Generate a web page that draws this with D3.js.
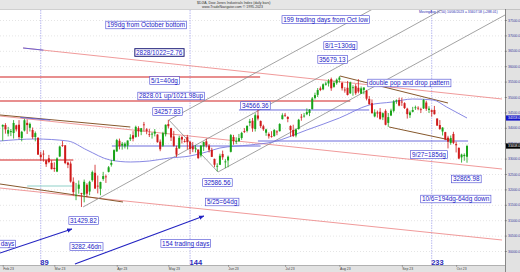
<!DOCTYPE html>
<html>
<head>
<meta charset="utf-8">
<script src="https://cdn.jsdelivr.net/npm/d3@7"></script>
<style>
  body { margin: 0; background: #fff; }
  svg { display: block; font-family: "Liberation Sans", Arial, sans-serif; }
</style>
</head>
<body>
<svg id="chart" width="520" height="272"></svg>
<script>
// bars are placed by trading-day number, counted from the Oct 13 2022 low (day 0)
const firstDay = 75; // Feb 1 2023

// daily bars [open, high, low, close]
const febBars = [
  [34040, 34110, 33580, 34093], [34090, 34150, 33810, 33949], [33810, 34030, 33720, 33926],
  [33860, 33960, 33730, 33891], [33830, 34250, 33650, 34157], [34080, 34100, 33880, 33949],
  [34100, 34250, 33640, 33700], [33670, 33900, 33560, 33869], [33910, 34290, 33880, 34246],
  [34160, 34270, 33800, 34089], [34000, 34170, 33880, 34128], [33930, 34010, 33640, 33697],
  [33700, 33880, 33560, 33827], [33680, 33680, 33120, 33130], [33130, 33220, 32930, 33045],
  [33160, 33270, 32900, 33154], [32940, 32960, 32730, 32817], [33010, 33120, 32850, 32889],
  [32860, 32950, 32650, 32657]
];
const marBars = [
  [32700, 32880, 32570, 32662], [32580, 33040, 32560, 33004], [33070, 33420, 33050, 33391],
  [33440, 33570, 33380, 33431], [33430, 33440, 32820, 32856], [32870, 32900, 32690, 32798],
  [32840, 32910, 32220, 32255], [32250, 32390, 31800, 31910], [31810, 32210, 31650, 31819],
  [32020, 32290, 31860, 32155], [31880, 31890, 31430, 31875], [31830, 32320, 31580, 32247],
  [32150, 32200, 31750, 31862], [31930, 32280, 31810, 32245], [32300, 32610, 32250, 32561],
  [32540, 32800, 32010, 32030], [32120, 32450, 31870, 32105], [32020, 32250, 31810, 32238],
  [32340, 32570, 32280, 32432], [32420, 32480, 32210, 32394], [32570, 32760, 32550, 32718],
  [32800, 32950, 32740, 32859], [32930, 33300, 32920, 33274]
];
const aprBars = [
  [33230, 33640, 33230, 33601], [33580, 33650, 33300, 33402], [33420, 33540, 33290, 33483],
  [33400, 33530, 33330, 33485], [33420, 33590, 33300, 33587], [33630, 33790, 33570, 33685],
  [33760, 33890, 33560, 33647], [33700, 34070, 33680, 34030], [33990, 34050, 33710, 33886],
  [33870, 33990, 33760, 33987], [34110, 34190, 33880, 34083], [33950, 33990, 33790, 33897],
  [33790, 33970, 33700, 33787], [33800, 33850, 33650, 33809], [33810, 33960, 33720, 33875],
  [33780, 33790, 33520, 33531], [33550, 33620, 33240, 33302], [33420, 33870, 33380, 33826],
  [33790, 34110, 33720, 34098]
];
const mayBars = [
  [34120, 34258, 33980, 34052], [33990, 34000, 33570, 33685], [33720, 33900, 33390, 33414],
  [33350, 33420, 33050, 33128], [33330, 33740, 33320, 33674], [33700, 33730, 33490, 33619],
  [33570, 33640, 33520, 33562], [33700, 33770, 33300, 33531], [33550, 33560, 33140, 33310],
  [33400, 33540, 33210, 33301], [33340, 33440, 33200, 33349], [33290, 33300, 33000, 33012],
  [33100, 33440, 33040, 33421], [33400, 33550, 33250, 33536], [33560, 33650, 33360, 33427],
  [33420, 33470, 33200, 33287], [33280, 33350, 33050, 33056], [32990, 33000, 32720, 32800],
  [32760, 32850, 32587, 32765], [32800, 33160, 32790, 33093], [33150, 33260, 32960, 33043],
  [32880, 32980, 32690, 32908]
];
const junBars = [
  [32940, 33100, 32720, 33062], [33220, 33800, 33200, 33763], [33700, 33770, 33450, 33563],
  [33550, 33690, 33470, 33573], [33560, 33800, 33560, 33665], [33670, 33870, 33610, 33834],
  [33890, 33990, 33830, 33877], [33900, 34070, 33850, 34066], [34160, 34290, 34050, 34212],
  [34230, 34320, 33870, 33979], [33960, 34470, 33880, 34408], [34400, 34590, 34240, 34299],
  [34220, 34240, 33990, 34054], [34050, 34100, 33900, 33952], [33840, 33970, 33740, 33947],
  [33800, 33850, 33650, 33727], [33730, 33890, 33680, 33715], [33730, 33960, 33710, 33927],
  [33880, 33920, 33760, 33853], [33890, 34150, 33880, 34122], [34280, 34470, 34270, 34408]
];
const julBars = [
  [34420, 34480, 34350, 34418], [34350, 34380, 34180, 34289], [34060, 34080, 33710, 33922],
  [33930, 34100, 33700, 33735], [33750, 33980, 33690, 33944], [33960, 34290, 33940, 34261],
  [34360, 34450, 34230, 34347], [34380, 34480, 34330, 34395], [34440, 34630, 34410, 34509],
  [34480, 34610, 34380, 34585], [34610, 35000, 34590, 34952], [34970, 35140, 34920, 35061],
  [35070, 35290, 35000, 35225], [35280, 35340, 35190, 35228], [35250, 35440, 35220, 35411],
  [35400, 35500, 35370, 35438], [35440, 35580, 35340, 35520], [35580, 35630, 35200, 35283],
  [35330, 35520, 35300, 35459], [35450, 35600, 35400, 35560]
];
const augBars = [
  [35560, 35679, 35470, 35631], [35460, 35480, 35210, 35283], [35240, 35320, 35140, 35216],
  [35300, 35520, 35050, 35066], [35120, 35500, 35100, 35473], [35310, 35380, 35040, 35314],
  [35350, 35420, 35070, 35123], [35300, 35580, 35120, 35176], [35110, 35340, 35100, 35281],
  [35230, 35310, 35090, 35308], [35200, 35230, 34890, 34946], [34940, 35030, 34750, 34766],
  [34800, 34920, 34460, 34475], [34370, 34600, 34340, 34501], [34500, 34560, 34330, 34464],
  [34520, 34640, 34260, 34289], [34340, 34500, 34250, 34473], [34550, 34600, 34080, 34099],
  [34160, 34480, 34030, 34347], [34400, 34620, 34380, 34560], [34550, 34900, 34500, 34853],
  [34870, 34920, 34780, 34890], [34900, 34980, 34700, 34722]
];
const sepBars = [
  [34850, 34980, 34710, 34838], [34800, 34830, 34610, 34642], [34620, 34650, 34300, 34443],
  [34410, 34560, 34320, 34501], [34520, 34680, 34500, 34577], [34660, 34720, 34580, 34664],
  [34650, 34700, 34570, 34646], [34600, 34650, 34480, 34576], [34630, 34930, 34610, 34907],
  [34820, 34880, 34550, 34618], [34580, 34700, 34480, 34624], [34570, 34600, 34360, 34518],
  [34580, 34710, 34430, 34441], [34300, 34310, 34070, 34070], [34090, 34250, 33930, 33964],
  [33880, 34020, 33750, 34007], [33860, 33870, 33600, 33619], [33680, 33740, 33330, 33550],
  [33510, 33750, 33450, 33666], [33800, 33870, 33470, 33508]
];
const octBars = [
  [33470, 33550, 33200, 33433], [33350, 33360, 32980, 33002], [33040, 33160, 32870, 33130],
  [33080, 33170, 32930, 33120], [33060, 33450, 32866, 33408]
];

// 50 bar moving average [day, value]
const maPoints = [
  [74, 33571], [87, 33636], [99, 33571], [106, 33279], [114.5, 32955], [122, 32890],
  [129, 32922], [136.5, 33020], [144, 33084], [150, 33214], [155, 33344], [166, 33442],
  [174.5, 33539], [187, 33929], [199, 34318], [210, 34740], [218.5, 34838], [226, 34935],
  [233.5, 34903], [238.5, 34675], [246, 34318]
];

const priceTicks = [30000, 30500, 31000, 31500, 32000, 32500, 33000, 33500, 34000,
  34500, 35000, 35500, 36000, 36500, 37000, 37500];
const monthLabels = ["Feb 23", "Mar 23", "Apr 23", "May 23", "Jun 23", "Jul 23", "Aug 23", "Sep 23", "Oct 23"];
const monthDays = [75, 94, 117, 136, 158, 179, 199, 222, 242];
const fibDays = [89, 144, 233];

// drawn trend lines [day, value] -> [day, value]
const redLevels = [
  [[74, 35649], [169.8, 35649]],
  [[74, 34870], [203, 34870]],
  [[74, 32955], [101, 32955]]
];
const redChannel = [
  [[82.5, 36591], [258.9, 34935]],
  [[74, 34383], [258.9, 32662]],
  [[74, 32045], [258.9, 30357]]
];
const brownLines = [
  [[74, 34416], [122, 34026]],
  [[74, 32175], [119.3, 31591]],
  [[199.2, 35682], [239, 34805]],
  [[217.3, 34026], [239.7, 33604]]
];
const grayLines = [
  [[136.2, 34253], [214, 37987]],
  [[104.6, 31429], [237.9, 37890]],
  [[154.3, 32565], [260, 37662]],
  [[136.2, 34253], [154.3, 32565]]
];
const blueLines = [
  [[115.2, 33409], [170, 33409]],
  [[169, 33571], [246.4, 33571]],
  [[162, 34578], [210, 34578]],
  [[82.5, 36591], [90, 36521]],
  [[81.5, 34335], [92.5, 34250]]
];
const tealLines = [
  [[84, 32110], [101, 32110]]
];
const arrows = [
  [[74, 29935], [100.5, 30714]],
  [[101.6, 29578], [149.1, 31136]]
];

// text boxes: text, left day, centre value
const notes = [
  ["199dg from October bottom", 113.4, 37338],
  ["2828/1022=2.76", 124.1, 36445],
  ["5/1=40dg", 129.6, 35536],
  ["2828.01 up/1021.98up", 125.2, 35033],
  ["34257.83", 130.7, 34529],
  ["34566.36", 163.1, 34724],
  ["199 trading days from Oct low", 178.3, 37516],
  ["8/1=130dg", 193.7, 36672],
  ["35679.13", 191.5, 36218],
  ["double pop and drop pattern", 209.9, 35455],
  ["9/27=185dg", 225.7, 33133],
  ["32865.98", 240.8, 32338],
  ["10/6=194dg-64dg down", 229.4, 31688],
  ["32586.56", 149.1, 32224],
  ["5/25=64dg", 150.2, 31591],
  ["31429.82", 99.8, 30990],
  ["3282.46dn", 100.2, 30146],
  ["154 trading days", 133.7, 30244],
  ["days", 74.3, 30227]
];

const W = 520, H = 272;
const plotRight = 505, plotTop = 10, plotBottom = 265;

const bars = [].concat(febBars, marBars, aprBars, mayBars, junBars, julBars, augBars, sepBars, octBars)
  .map((b, i) => ({ day: firstDay + i, o: b[0], h: b[1], l: b[2], c: b[3] }));

const x = d3.scaleLinear().domain([0, 246]).range([-200.9, 467]);
const y = d3.scaleLinear().domain([30000, 37500]).range([251, 20]);

const svg = d3.select("#chart");

svg.append("rect").attr("width", W).attr("height", H).attr("fill", "#fff");

const defs = svg.append("defs");
defs.append("clipPath").attr("id", "plotClip")
  .append("rect").attr("x", 0).attr("y", plotTop).attr("width", plotRight).attr("height", plotBottom - plotTop);
defs.append("marker").attr("id", "arrowHead")
  .attr("viewBox", "0 0 10 10").attr("refX", 9).attr("refY", 5)
  .attr("markerWidth", 5).attr("markerHeight", 5).attr("orient", "auto")
  .append("path").attr("d", "M0,1L10,5L0,9Z").attr("fill", "#2323c2");

const g = svg.append("g").attr("clip-path", "url(#plotClip)");

// dotted price grid
g.append("g").selectAll("line").data(priceTicks).join("line")
  .attr("x1", 0).attr("x2", plotRight)
  .attr("y1", d => y(d) + 0.5).attr("y2", d => y(d) + 0.5)
  .attr("stroke", "#d4d4d4").attr("stroke-width", 0.6).attr("stroke-dasharray", "1,2");

// fibonacci day markers
g.append("g").selectAll("line").data(fibDays).join("line")
  .attr("x1", d => x(d)).attr("x2", d => x(d))
  .attr("y1", plotTop).attr("y2", plotBottom)
  .attr("stroke", "#9a9ae8").attr("stroke-width", 0.7).attr("stroke-dasharray", "1.5,1");

function drawLines(data, color, width) {
  g.append("g").selectAll("line").data(data).join("line")
    .attr("x1", d => x(d[0][0])).attr("y1", d => y(d[0][1]))
    .attr("x2", d => x(d[1][0])).attr("y2", d => y(d[1][1]))
    .attr("stroke", color).attr("stroke-width", width);
}

drawLines(redLevels, "#e06a6a", 1.3);
drawLines(redChannel, "#ec8080", 0.8);
drawLines(tealLines, "#8fd0c8", 1);
drawLines(brownLines, "#86582c", 1);
drawLines(grayLines, "#8c8c8c", 0.8);
drawLines(blueLines, "#5c5cd8", 0.9);

// moving average
g.append("path")
  .datum(maPoints)
  .attr("d", d3.line().x(d => x(d[0])).y(d => y(d[1])).curve(d3.curveMonotoneX))
  .attr("fill", "none").attr("stroke", "#7a7ae0").attr("stroke-width", 0.9);

// candles
const candle = g.append("g").selectAll("g").data(bars).join("g");
candle.append("line")
  .attr("x1", d => x(d.day)).attr("x2", d => x(d.day))
  .attr("y1", d => y(d.h)).attr("y2", d => y(d.l))
  .attr("stroke", d => d.c >= d.o ? "#17a317" : "#cf1b1b").attr("stroke-width", 0.8);
candle.append("rect")
  .attr("x", d => x(d.day) - 1).attr("width", 2)
  .attr("y", d => y(Math.max(d.o, d.c)))
  .attr("height", d => Math.max(0.8, Math.abs(y(d.o) - y(d.c))))
  .attr("fill", d => d.c >= d.o ? "#17a317" : "#cf1b1b");

// arrows
g.append("g").selectAll("line").data(arrows).join("line")
  .attr("x1", d => x(d[0][0])).attr("y1", d => y(d[0][1]))
  .attr("x2", d => x(d[1][0])).attr("y2", d => y(d[1][1]))
  .attr("stroke", "#2323c2").attr("stroke-width", 1.1)
  .attr("marker-end", "url(#arrowHead)");

// note boxes
const noteLayer = g.append("g");
notes.forEach(n => {
  const box = noteLayer.append("g");
  const strong = n[0] === "2828/1022=2.76";
  const t = box.append("text")
    .attr("x", x(n[1])).attr("y", y(n[2]) + 2.2)
    .attr("font-size", 6.4).attr("fill", "#1b1bc6")
    .text(n[0]);
  const b = t.node().getBBox();
  // the left-edge box runs off the chart like in the source
  const left = n[0] === "days" ? -40 : b.x - 1.2;
  box.insert("rect", "text")
    .attr("x", left).attr("y", y(n[2]) - 3.8)
    .attr("width", b.x + b.width + 1.2 - left).attr("height", 7.6)
    .attr("fill", "#fff")
    .attr("stroke", strong ? "#1a1a78" : "#4646d2").attr("stroke-width", strong ? 1 : 0.6);
});

// frame: header, right price panel, bottom date panel
svg.append("rect").attr("x", 0).attr("y", 0).attr("width", W).attr("height", plotTop - 1).attr("fill", "#e6e6e6");
svg.append("rect").attr("x", plotRight).attr("y", plotTop - 1).attr("width", W - plotRight).attr("height", H).attr("fill", "#e2e2e2");
svg.append("rect").attr("x", 0).attr("y", plotBottom).attr("width", plotRight).attr("height", H - plotBottom).attr("fill", "#e2e2e2");
svg.append("line").attr("x1", 0).attr("x2", W).attr("y1", plotTop - 0.5).attr("y2", plotTop - 0.5).attr("stroke", "#b0b0b0").attr("stroke-width", 0.6);
svg.append("line").attr("x1", plotRight + 0.5).attr("x2", plotRight + 0.5).attr("y1", plotTop - 1).attr("y2", H).attr("stroke", "#707070").attr("stroke-width", 0.8);
svg.append("line").attr("x1", 0).attr("x2", plotRight).attr("y1", plotBottom + 0.5).attr("y2", plotBottom + 0.5).attr("stroke", "#909090").attr("stroke-width", 0.6);

// header text
svg.append("text").attr("x", 197).attr("y", 4).attr("font-size", 3.5).attr("fill", "#333")
  .text("$DJIA, Dow Jones Industrials Index  (daily bars)");
svg.append("text").attr("x", 202).attr("y", 8).attr("font-size", 3.5).attr("fill", "#333")
  .text("www.TradeNavigator.com © 1995-2023");
svg.append("text").attr("x", 419).attr("y", 12.8).attr("font-size", 3.4).attr("fill", "#2a2ab0")
  .text("MovingAvg (C,50)      10/06/2023 = 33407.58 (+288.01)");

// price axis
const yAxis = svg.append("g").attr("transform", `translate(${plotRight},0)`)
  .call(d3.axisRight(y).tickValues(priceTicks).tickSize(2).tickFormat(d3.format(".1f")));
yAxis.select(".domain").remove();
yAxis.selectAll("line").attr("stroke", "#555").attr("stroke-width", 0.5);
yAxis.selectAll("text").attr("x", 3).attr("font-size", 3.4).attr("fill", "#3a3a9a")
  .attr("font-family", "'Liberation Sans', Arial, sans-serif");

function priceFlag(value, bg) {
  const f = svg.append("g");
  f.append("rect").attr("x", plotRight + 1).attr("y", y(value) - 2.6)
    .attr("width", W - plotRight - 1).attr("height", 5.2).attr("fill", bg);
  f.append("text").attr("x", plotRight + 3).attr("y", y(value) + 1.3)
    .attr("font-size", 3.4).attr("fill", "#fff").text(d3.format(".1f")(value));
}
priceFlag(maPoints[maPoints.length - 1][1], "#1414c8");
priceFlag(bars[bars.length - 1].c, "#000");

// date axis
const xAxis = svg.append("g").attr("transform", `translate(0,${plotBottom})`)
  .call(d3.axisBottom(x).tickValues(monthDays).tickSize(2).tickFormat((d, i) => monthLabels[i]));
xAxis.select(".domain").remove();
xAxis.selectAll("line").attr("stroke", "#666").attr("stroke-width", 0.5);
xAxis.selectAll("text").attr("y", 2.5).attr("dy", "0.7em").attr("text-anchor", "start")
  .attr("font-size", 3.4).attr("fill", "#444")
  .attr("font-family", "'Liberation Sans', Arial, sans-serif");

// fibonacci day numbers
svg.append("g").selectAll("text").data(fibDays).join("text")
  .attr("x", d => x(d) - 0.5).attr("y", plotBottom - 0.5)
  .attr("font-size", 7.5).attr("font-weight", "bold").attr("fill", "#2a2ab8")
  .text(d => d);
</script>
</body>
</html>
